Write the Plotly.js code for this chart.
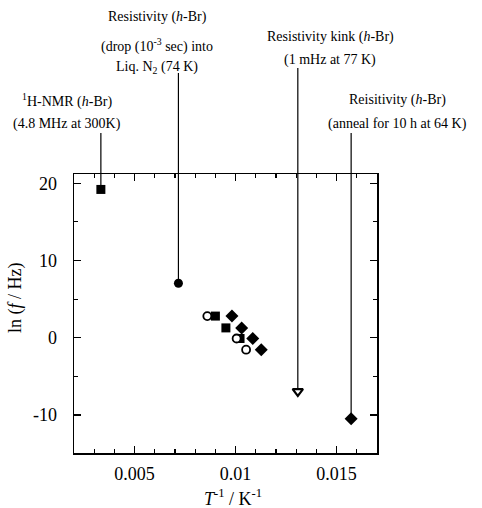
<!DOCTYPE html>
<html><head><meta charset="utf-8">
<script src="https://cdn.plot.ly/plotly-3.0.1.min.js"></script>
<style>body{margin:0;background:#fff}</style>
</head><body><div id="chart" style="width:482px;height:508px"></div>
<script>
// Data (T^-1 in K^-1, ln(f/Hz))
const squareX = [0.00333, 0.0090, 0.00952, 0.01022];
const squareY = [19.2, 2.8, 1.27, -0.1];
const openCircleX = [0.0086, 0.01005, 0.01052];
const openCircleY = [2.8, -0.1, -1.55];
const filledCircleX = [0.00717];
const filledCircleY = [7.05];
const diamondX = [0.00982, 0.0103, 0.01085, 0.01127, 0.01572];
const diamondY = [2.8, 1.27, -0.1, -1.55, -10.5];
const triangleX = [0.01308];
const triangleY = [-6.95];
// Labelled points (leader lines) : x, y, top of leader (paper fraction)
const leaderX = [0.00333, 0.00717, 0.01308, 0.01572];
const leaderY = [19.2, 7.05, -6.95, -10.5];
const leaderTop = [1.147, 1.362, 1.38, 1.147];

const xTickVals = [0.005, 0.01, 0.015];
const xTickText = ['0.005', '0.01', '0.015'];
const yTickVals = [-10, 0, 10, 20];
const yTickText = ['-10', '0', '10', '20'];

const X_RANGE = [0.002, 0.017];
const Y_RANGE = [-14.93, 21.2];

const FAM = 'Liberation Serif, Times New Roman, serif';
const font = {family: FAM, size: 18, color: '#000'};
const traces = [];
// inner parts of leader lines
leaderX.forEach((x, i) => {
  traces.push({x: [x, x], y: [leaderY[i], Y_RANGE[1]], mode: 'lines',
    line: {color: '#000', width: 1.2}, hoverinfo: 'skip', showlegend: false});
});
traces.push({x: squareX, y: squareY, mode: 'markers', marker: {symbol: 'square', size: 9, color: '#000'}});
traces.push({x: openCircleX, y: openCircleY, mode: 'markers', marker: {symbol: 'circle', size: 8, color: '#fff', line: {color: '#000', width: 1.8}}});
traces.push({x: filledCircleX, y: filledCircleY, mode: 'markers', marker: {symbol: 'circle', size: 9, color: '#000'}});
traces.push({x: diamondX, y: diamondY, mode: 'markers', marker: {symbol: 'diamond', size: 10, color: '#000'}});
traces.push({x: triangleX, y: triangleY, mode: 'markers', marker: {symbol: 'triangle-down', size: 9, color: '#fff', line: {color: '#000', width: 2.2}}});

const shapes = leaderX.map((x, i) => ({type: 'line', xref: 'x', yref: 'paper', x0: x, x1: x, y0: 1, y1: leaderTop[i], line: {color: '#000', width: 1.2}}));

const labels = [
  ['<sup>1</sup>H-NMR (<i>h</i>-Br)', -0.023, 1.265],
  ['(4.8 MHz at 300K)', -0.023, 1.179],
  ['Resistivity (<i>h</i>-Br)', 0.274, 1.563],
  ['(drop (10<sup>-3</sup> sec) into', 0.274, 1.459],
  ['Liq. N<sub>2</sub> (74 K)', 0.274, 1.38],
  ['Resistivity kink (<i>h</i>-Br)', 0.845, 1.491],
  ['(1 mHz at 77 K)', 0.845, 1.409],
  ['Reisitivity (<i>h</i>-Br)', 1.069, 1.265],
  ['(anneal for 10 h at 64 K)', 1.069, 1.179]
];
const annotations = labels.map(l => ({text: l[0], x: l[1], y: l[2], xref: 'paper', yref: 'paper',
  xanchor: 'center', yanchor: 'middle', showarrow: false, font: {family: FAM, size: 14, color: '#000'}}));
annotations.push({text: '<i>T</i><sup>-1</sup> / K<sup>-1</sup>', x: 0.525, y: -0.158, xref: 'paper', yref: 'paper',
  xanchor: 'center', yanchor: 'middle', showarrow: false, font: {family: FAM, size: 18, color: '#000'}});
annotations.push({text: 'ln (<i>f</i> / Hz)', x: -0.191, y: 0.556, xref: 'paper', yref: 'paper', textangle: -90,
  xanchor: 'center', yanchor: 'middle', showarrow: false, font: {family: FAM, size: 18, color: '#000'}});

const layout = {
  width: 482, height: 508,
  margin: {l: 74, r: 105, t: 174, b: 55},
  paper_bgcolor: '#fff', plot_bgcolor: '#fff',
  showlegend: false, font: font,
  xaxis: {range: X_RANGE, tickvals: xTickVals, ticktext: xTickText,
    ticks: 'inside', ticklen: 7, tickwidth: 1.2, tickcolor: '#000', mirror: 'allticks',
    showline: true, linecolor: '#000', linewidth: 1.5, showgrid: false, zeroline: false,
    ticklabelstandoff: 4,
    minor: {dtick: 0.001, tick0: 0, ticks: 'inside', ticklen: 4, tickcolor: '#000', showgrid: false}},
  yaxis: {range: Y_RANGE, tickvals: yTickVals, ticktext: yTickText, ticks: 'inside', ticklen: 7, tickwidth: 1.2, tickcolor: '#000',
    mirror: 'allticks', showline: true, linecolor: '#000', linewidth: 1.5, showgrid: false, zeroline: false,
    ticklabelstandoff: 12,
    minor: {dtick: 5, tick0: 0, ticks: 'inside', ticklen: 4, tickcolor: '#000', showgrid: false}},
  shapes: shapes, annotations: annotations
};
Plotly.newPlot('chart', traces, layout, {staticPlot: true});
</script></body></html>
